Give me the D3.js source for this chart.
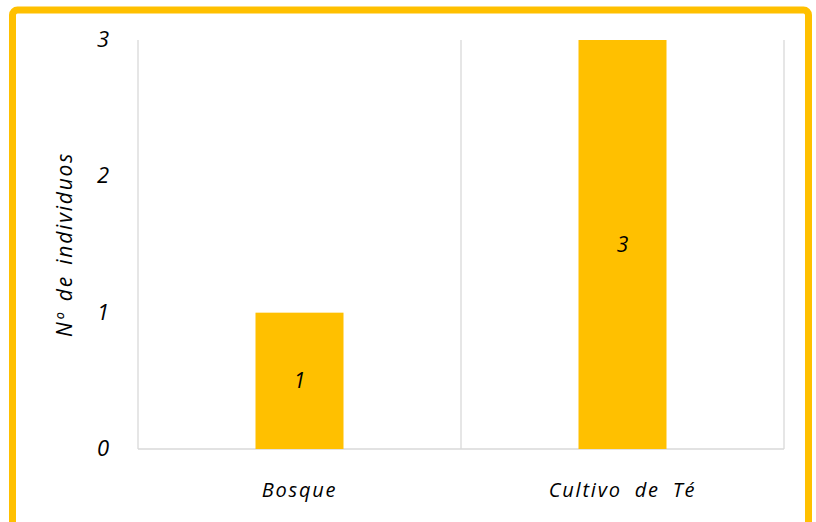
<!DOCTYPE html>
<html>
<head>
<meta charset="utf-8">
<script src="https://cdn.jsdelivr.net/npm/d3@7"></script>
<style>
  body { margin: 0; background: #fff; }
  text { font-family: "Open Sans", "DejaVu Sans", sans-serif; font-style: italic; fill: #000; }
</style>
</head>
<body>
<svg id="chart" width="816" height="522"></svg>
<script>
// chart data
var categories = ["Bosque", "Cultivo de Té"];
var values = [1, 3];
var yTicks = [0, 1, 2, 3];
var yTitle = "Nº de individuos";

var svg = d3.select("#chart");
var margin = {left: 138, right: 32, top: 40, bottom: 73};
var width = 816, height = 522;

// orange frame
svg.append("rect")
    .attr("x", 12.5).attr("y", 10).attr("width", 796).attr("height", 530)
    .attr("rx", 5)
    .attr("fill", "none")
    .attr("stroke", "#FFC000")
    .attr("stroke-width", 7);

var x = d3.scaleBand()
    .domain(categories)
    .range([margin.left, width - margin.right])
    .paddingInner(0)
    .paddingOuter(0);

var y = d3.scaleLinear()
    .domain([0, 3])
    .range([height - margin.bottom, margin.top]);

// vertical category separators
var edges = [margin.left].concat(categories.map(function (c) { return x(c) + x.bandwidth(); }));
svg.append("g").selectAll("line")
    .data(edges)
    .enter().append("line")
    .attr("x1", d => d).attr("x2", d => d)
    .attr("y1", y(3)).attr("y2", y(0))
    .attr("stroke", "#D9D9D9").attr("stroke-width", 1.3);

// baseline
svg.append("line")
    .attr("x1", margin.left).attr("x2", width - margin.right)
    .attr("y1", y(0)).attr("y2", y(0))
    .attr("stroke", "#D9D9D9").attr("stroke-width", 1.5);

// bars
var barW = 88;
svg.append("g").selectAll("rect")
    .data(values)
    .enter().append("rect")
    .attr("x", (d, i) => x(categories[i]) + x.bandwidth() / 2 - barW / 2)
    .attr("y", d => y(d))
    .attr("width", barW)
    .attr("height", d => y(0) - y(d))
    .attr("fill", "#FFC000");

// data labels
svg.append("g").selectAll("text")
    .data(values)
    .enter().append("text")
    .attr("x", (d, i) => x(categories[i]) + x.bandwidth() / 2)
    .attr("y", d => (y(d) + y(0)) / 2 + 7)
    .attr("text-anchor", "middle")
    .style("font-size", "21px")
    .text(d => d);

// y tick labels
svg.append("g").selectAll("text")
    .data(yTicks)
    .enter().append("text")
    .attr("x", 109)
    .attr("y", d => y(d) + 7)
    .attr("text-anchor", "end")
    .style("font-size", "22px")
    .text(d => d);

// category labels
svg.append("g").selectAll("text")
    .data(categories)
    .enter().append("text")
    .attr("x", d => x(d) + x.bandwidth() / 2)
    .attr("y", 497)
    .attr("text-anchor", "middle")
    .style("font-size", "20px")
    .style("letter-spacing", "1.8px")
    .style("word-spacing", "6px")
    .text(d => d);

// y axis title
svg.append("text")
    .attr("transform", "translate(72," + ((y(0) + y(3)) / 2) + ") rotate(-90)")
    .attr("text-anchor", "middle")
    .style("font-size", "21px")
    .style("letter-spacing", "1.8px")
    .style("word-spacing", "3px")
    .text(yTitle);
</script>
</body>
</html>
